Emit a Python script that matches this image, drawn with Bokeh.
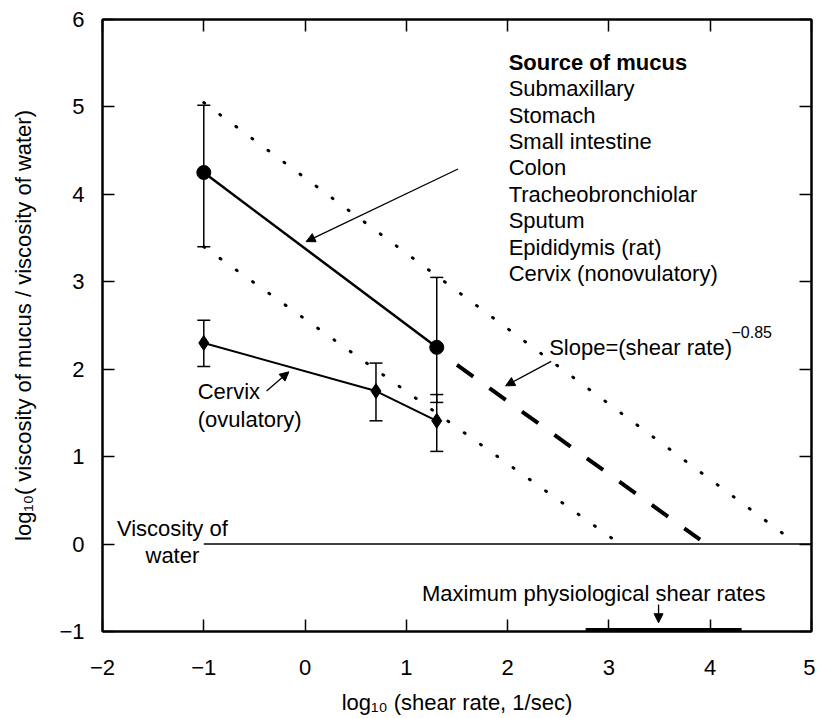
import math
from bokeh.plotting import figure
from bokeh.models import (ColumnDataSource, Whisker, TeeHead, Arrow, NormalHead,
                          Label, LinearAxis, FixedTicker, Range1d)
from bokeh.embed import file_html
from bokeh.resources import INLINE

# ---------------- data ----------------
x_ticks = [-2, -1, 0, 1, 2, 3, 4, 5]
y_ticks = [-1, 0, 1, 2, 3, 4, 5, 6]
tick_text = {-2: "\u22122", -1: "\u22121"}

x_title = "log\u2081\u2080 (shear rate, 1/sec)"
y_title = "log\u2081\u2080( viscosity of mucus / viscosity of water)"

mucus_x = [-1.0, 1.3]
mucus_y = [4.25, 2.25]
mucus_hi = [5.02, 3.05]
mucus_lo = [3.40, 1.62]

cervix_x = [-1.0, 0.7, 1.3]
cervix_y = [2.30, 1.75, 1.41]
cervix_hi = [2.56, 2.07, 1.71]
cervix_lo = [2.03, 1.41, 1.06]

upper_bound_x = [-1.0, 4.8]
upper_bound_y = [5.05, 0.05]
lower_bound_x = [-1.0, 3.05]
lower_bound_y = [3.40, 0.05]
extrap_x = [1.5, 3.9]
extrap_y = [2.05, 0.05]

water_x = [-1.0, 5.0]
water_y = [0.0, 0.0]

physio_x0 = [2.77]
physio_x1 = [4.31]
physio_y = [-1.0]

legend_title = "Source of mucus"
legend_items = ["Submaxillary", "Stomach", "Small intestine", "Colon",
                "Tracheobronchiolar", "Sputum", "Epididymis (rat)",
                "Cervix (nonovulatory)"]

# ---------------- figure ----------------
FW, FH = 709, 612
XMIN, XMAX, YMIN, YMAX = -2, 5, -1, 6
XS = FW / (XMAX - XMIN)   # px per x unit
YS = FH / (YMAX - YMIN)   # px per y unit
FONT = "Liberation Sans"
FS = "22px"
SFS = "16px"

p = figure(frame_width=FW, frame_height=FH,
           x_range=Range1d(XMIN, XMAX), y_range=Range1d(YMIN, YMAX),
           output_backend="svg", toolbar_location=None,
           min_border_left=102, min_border_right=4, min_border_top=19,
           min_border_bottom=85,
           background_fill_color="white", border_fill_color="white",
           outline_line_color="black", outline_line_width=2)
p.grid.visible = False


def style_axis(ax, ticks, show_labels, standoff=18):
    ax.ticker = FixedTicker(ticks=ticks)
    ax.major_tick_in = 12
    ax.major_tick_out = 0
    ax.minor_tick_in = 0
    ax.minor_tick_out = 0
    ax.major_tick_line_width = 1.5
    ax.major_tick_line_color = "black"
    ax.axis_line_width = 2
    ax.axis_line_color = "black"
    if show_labels:
        ax.major_label_text_font = FONT
        ax.major_label_text_font_size = FS
        ax.major_label_text_color = "black"
        ax.major_label_standoff = standoff
        ax.major_label_overrides = tick_text
        ax.axis_label_text_font = FONT
        ax.axis_label_text_font_size = FS
        ax.axis_label_text_font_style = "normal"
        ax.axis_label_text_color = "black"
    else:
        ax.major_label_text_font_size = "10px"
        ax.major_label_standoff = 0
        ax.major_label_overrides = {t: "" for t in ticks}


style_axis(p.xaxis[0], x_ticks, True, 28)
style_axis(p.yaxis[0], y_ticks, True, 18)
p.xaxis[0].axis_label = x_title
p.xaxis[0].axis_label_standoff = 12
p.yaxis[0].axis_label = y_title
p.yaxis[0].axis_label_standoff = 20

top_ax = LinearAxis()
style_axis(top_ax, x_ticks, False)
p.add_layout(top_ax, "above")
right_ax = LinearAxis()
style_axis(right_ax, y_ticks, False)
p.add_layout(right_ax, "right")

# ---------------- reference lines ----------------
p.line(water_x, water_y, line_color="black", line_width=1.5)
p.line(upper_bound_x, upper_bound_y, line_color="black", line_width=3,
       line_dash="1 19", line_cap="round")
p.line(lower_bound_x, lower_bound_y, line_color="black", line_width=3,
       line_dash="1 19", line_cap="round")
p.line(extrap_x, extrap_y, line_color="black", line_width=4,
       line_dash="20 20")

# ---------------- series ----------------
src_m = ColumnDataSource(dict(x=mucus_x, y=mucus_y, hi=mucus_hi, lo=mucus_lo))
src_c = ColumnDataSource(dict(x=cervix_x, y=cervix_y, hi=cervix_hi, lo=cervix_lo))

for src in (src_m, src_c):
    p.add_layout(Whisker(base="x", upper="hi", lower="lo", source=src,
                         line_color="black", line_width=1.5,
                         upper_head=TeeHead(size=13, line_width=1.5, line_color="black"),
                         lower_head=TeeHead(size=13, line_width=1.5, line_color="black")))

p.line("x", "y", source=src_m, line_color="black", line_width=2.5)
p.scatter("x", "y", source=src_m, marker="circle", size=14,
          fill_color="black", line_color="black")
p.line("x", "y", source=src_c, line_color="black", line_width=2)
p.scatter("x", "y", source=src_c, marker="diamond", size=15,
          fill_color="black", line_color="black")

# physiological shear-rate bar (sits on the bottom axis)
p.segment(x0=physio_x0, y0=physio_y, x1=physio_x1, y1=physio_y,
          line_color="black", line_width=7)

# ---------------- arrows ----------------
def arrow(x0, y0, x1, y1):
    p.add_layout(Arrow(x_start=x0, y_start=y0, x_end=x1, y_end=y1,
                       line_color="black", line_width=1.3,
                       end=NormalHead(size=9, fill_color="black",
                                      line_color="black", line_width=1)))

arrow(1.51, 4.29, 0.01, 3.46)
arrow(2.43, 2.09, 1.98, 1.81)
arrow(-0.38, 1.75, -0.16, 1.97)
arrow(3.49, -0.69, 3.49, -0.90)

# ---------------- text ----------------
def label(x, y, text, size=FS, align="left", style="normal"):
    p.add_layout(Label(x=x, y=y, text=text, text_font=FONT, text_font_size=size,
                       text_align=align, text_baseline="alphabetic",
                       text_font_style=style, text_color="black"))

label(2.01, 5.51, legend_title, style="bold")
for i, item in enumerate(legend_items):
    label(2.01, 5.51 - (i + 1) * 26.4 / YS, item)

label(2.41, 2.25, "Slope=(shear rate)")
label(4.21, 2.43, "\u22120.85", size=SFS)

label(-1.06, 1.74, "Cervix")
label(-1.06, 1.43, "(ovulatory)")

label(-1.31, 0.18, "Viscosity of", align="center")
label(-1.31, -0.13, "water", align="center")

label(2.85, -0.57, "Maximum physiological shear rates", align="center")

open("out.html", "w").write(file_html(p, INLINE))
